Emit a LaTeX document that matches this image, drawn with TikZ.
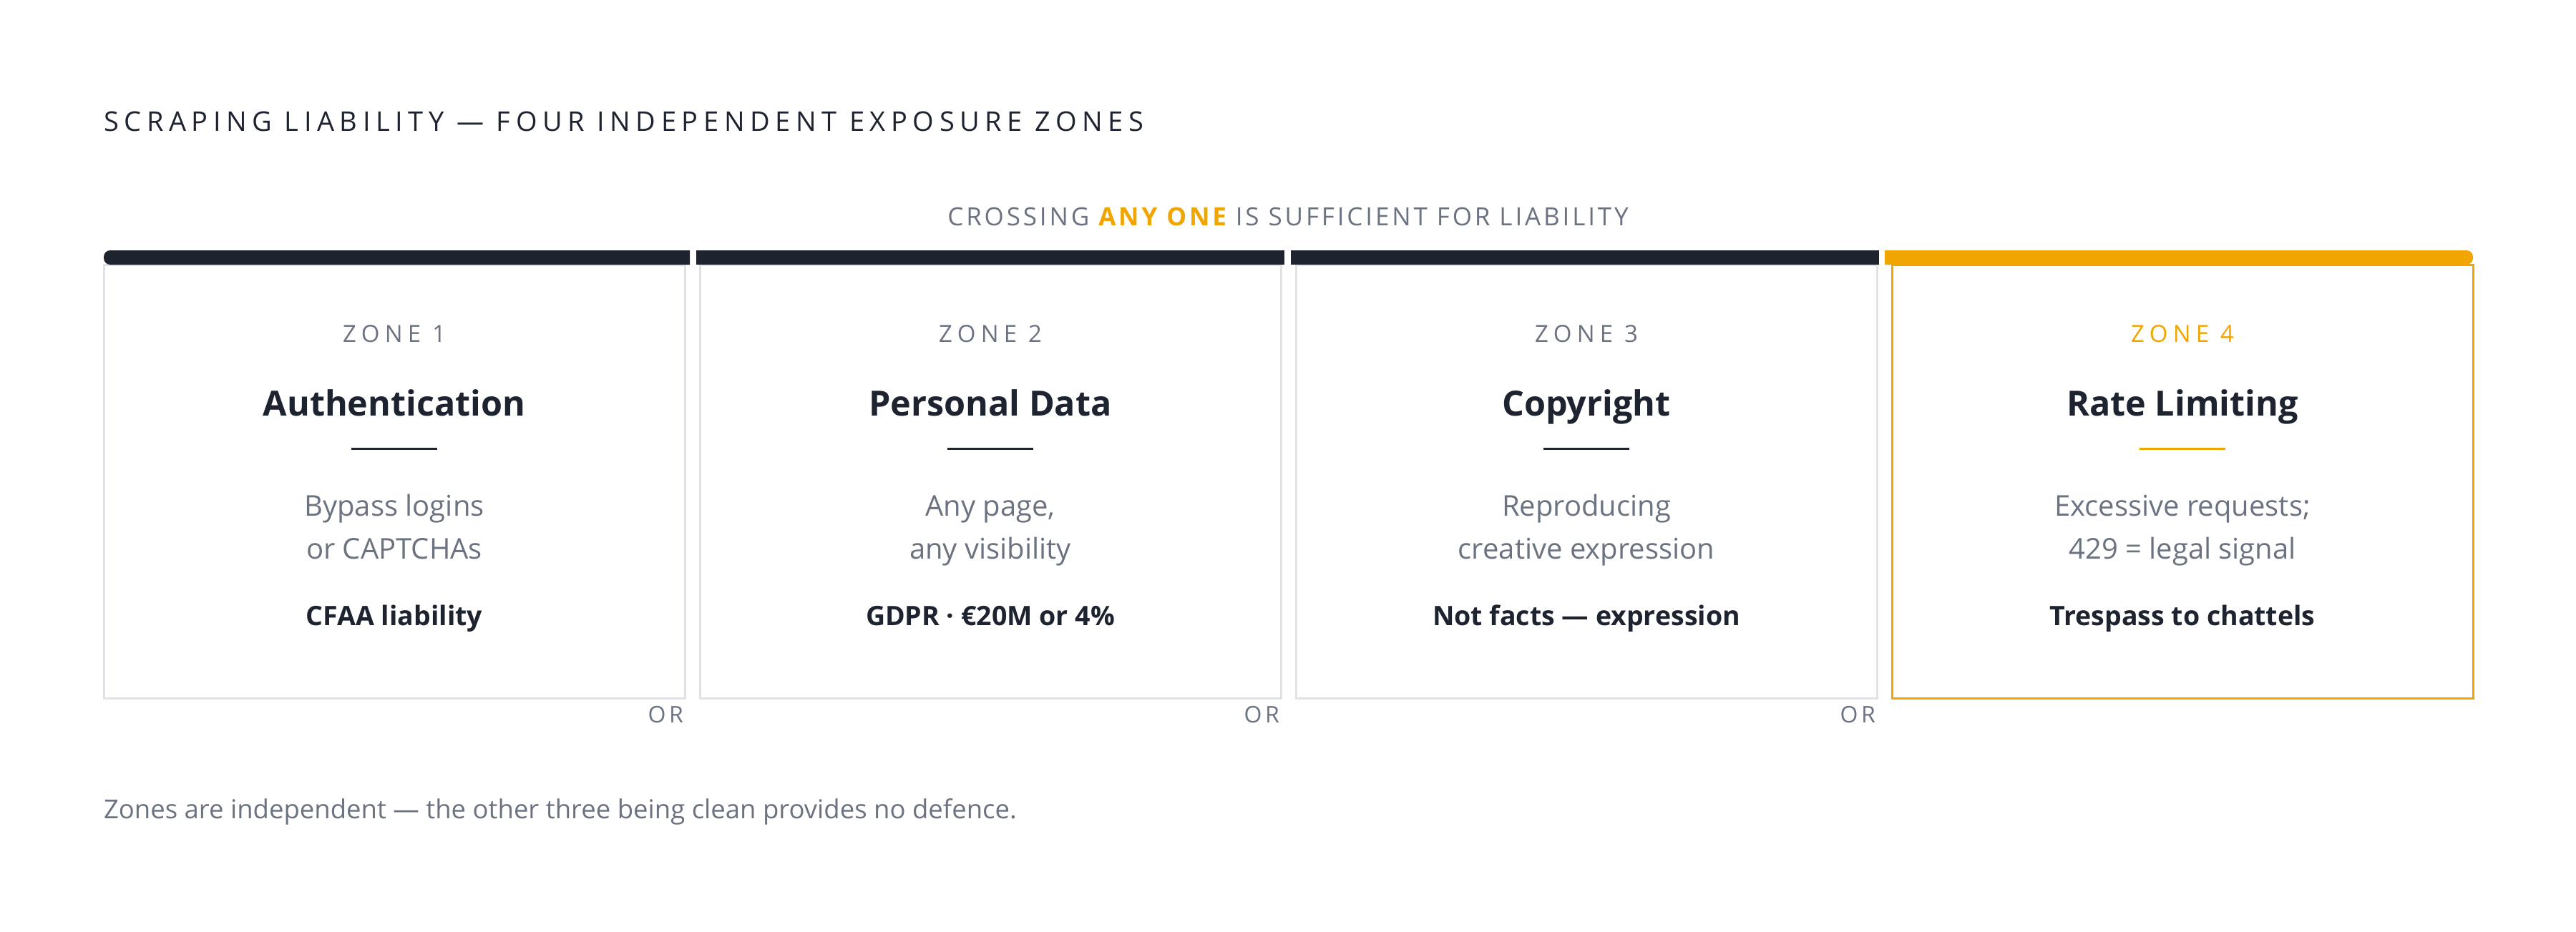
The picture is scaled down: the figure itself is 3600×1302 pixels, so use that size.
\documentclass[tikz,border=0pt]{standalone}
\usepackage{fontspec}
\setmainfont{Open Sans}
\newfontfamily\spacedfont[LetterSpace=20]{Open Sans}
\newfontfamily\zonefont[LetterSpace=22]{Open Sans}
\newfontfamily\subfont[LetterSpace=11]{Open Sans}
\newfontfamily\orfont[LetterSpace=15]{Open Sans}
\definecolor{inkc}{HTML}{1E2330}
\definecolor{grayc}{HTML}{6B7280}
\definecolor{linec}{HTML}{E1E2E6}
\definecolor{orangec}{HTML}{F0A500}
\begin{document}
\begin{tikzpicture}[x=1pt,y=-1pt]
\tikzset{
  txt/.style={inner sep=0pt, outer sep=0pt, anchor=base},
  zonebox/.style={draw=#1, line width=3pt, minimum width=812pt, minimum height=606pt, inner sep=0pt, outer sep=0pt},
  zonelabel/.style={txt, font=\zonefont\fontsize{33}{40}\selectfont},
  heading/.style={txt, text=inkc, font=\bfseries\fontsize{48.5}{58}\selectfont},
  desc/.style={txt, text=grayc, font=\fontsize{40}{48}\selectfont},
  law/.style={txt, text=inkc, font=\bfseries\fontsize{37.5}{45}\selectfont},
  orlabel/.style={inner sep=0pt, outer sep=0pt, anchor=base east, text=grayc, font=\orfont\fontsize{32}{38}\selectfont},
}
\useasboundingbox[fill=white] (0,0) rectangle (3600,1302);

% title and subtitle
\node[txt, anchor=base west, text=inkc, font=\spacedfont\fontsize{38}{46}\selectfont] (title) at (145,183)
  {SCRAPING LIABILITY — FOUR INDEPENDENT EXPOSURE ZONES};
\node[txt, text=grayc, font=\subfont\fontsize{35}{42}\selectfont] (sub) at (1800,315)
  {CROSSING \textcolor{orangec}{\bfseries ANY ONE} IS SUFFICIENT FOR LIABILITY};

% boxes
\foreach \i/\cx/\bc/\zc/\rc/\head/\la/\lb/\lw in {
  1/551/linec/grayc/inkc/Authentication/{Bypass logins}/{or CAPTCHAs}/{CFAA liability},
  2/1384/linec/grayc/inkc/{Personal Data}/{Any page,}/{any visibility}/{GDPR · €20M or 4\%},
  3/2217/linec/grayc/inkc/Copyright/{Reproducing}/{creative expression}/{Not facts — expression},
  4/3050/orangec/orangec/orangec/{Rate Limiting}/{Excessive requests;}/{429 = legal signal}/{Trespass to chattels}}
{
  \node[zonebox=\bc] (box\i) at (\cx,673) {};
  \node[zonelabel, text=\zc] (zone\i) at (\cx,478) {ZONE \i};
  \node[heading] (head\i) at (\cx,581) {\head};
  \coordinate (rl\i) at (\cx-60,627);
  \coordinate (rr\i) at (\cx+60,627);
  \draw[line width=3pt, \rc] (rl\i) -- (rr\i);
  \node[desc] (da\i) at (\cx,721) {\la};
  \node[desc] (db\i) at (\cx,781) {\lb};
  \node[law] (law\i) at (\cx,874) {\lw};
}

% top bars
\fill[inkc] (964,350) [rounded corners=9pt] -- (145,350) -- (145,370) [sharp corners] -- (964,370) -- cycle;
\fill[inkc] (973,350) rectangle (1795,370);
\fill[inkc] (1804,350) rectangle (2626,370);
\fill[orangec] (2634,350) [rounded corners=9pt] -- (3456,350) -- (3456,370) [sharp corners] -- (2634,370) -- cycle;

% OR labels
\node[orlabel] (or1) at (955,1010) {OR};
\node[orlabel] (or2) at (1788,1010) {OR};
\node[orlabel] (or3) at (2621,1010) {OR};

% footer
\node[txt, anchor=base west, text=grayc, font=\fontsize{36.5}{44}\selectfont] (foot) at (145,1144)
  {Zones are independent — the other three being clean provides no defence.};
\end{tikzpicture}
\end{document}
